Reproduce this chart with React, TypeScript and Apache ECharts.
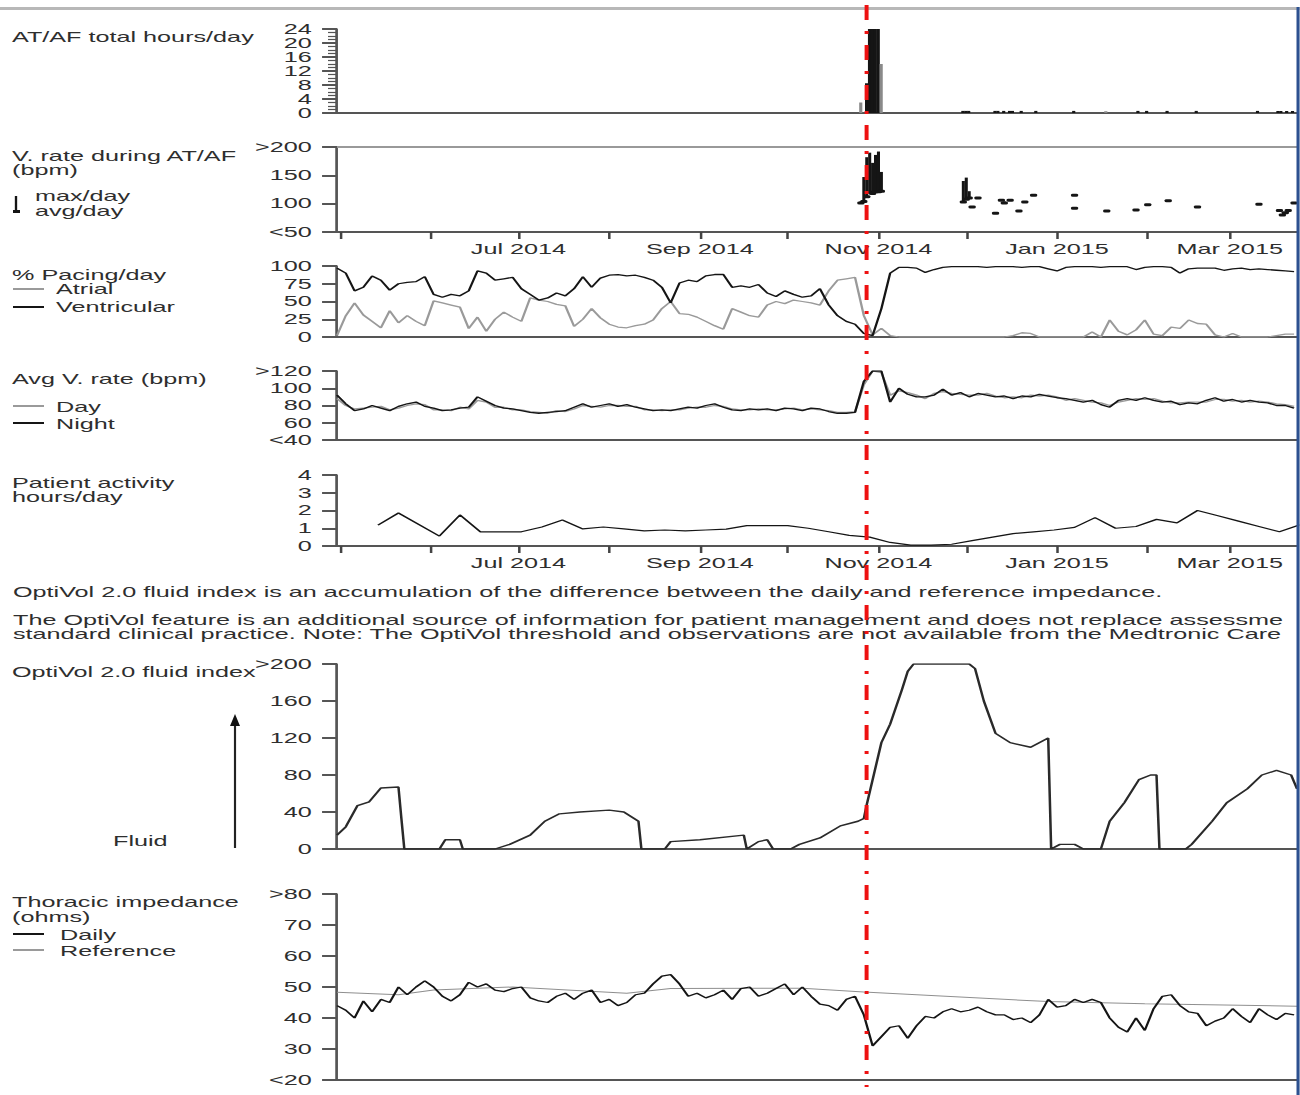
import React, { useEffect, useRef } from 'react';
import * as echarts from 'echarts';

// ---------------- data ----------------
const X_MIN = '2014-04-30';
const X_MAX = '2015-03-24';
const EVENT_DATE = '2014-10-28';
const SAMPLE_START = '2014-04-30';
const SAMPLE_STEP_DAYS = 3;
const MONTHS = ['Jan', 'Feb', 'Mar', 'Apr', 'May', 'Jun', 'Jul', 'Aug', 'Sep', 'Oct', 'Nov', 'Dec'];
const X_TICK_LABELS = ['Jul 2014', 'Sep 2014', 'Nov 2014', 'Jan 2015', 'Mar 2015'];

// AT/AF total hours/day
const ATAF_DATES = ['2014-10-28', '2014-10-29', '2014-10-30', '2014-10-31', '2014-11-01',
  '2014-11-30', '2014-12-01', '2014-12-02', '2014-12-11', '2014-12-12', '2014-12-14', '2014-12-16',
  '2014-12-17', '2014-12-20', '2014-12-25', '2015-01-07', '2015-01-29', '2015-02-01', '2015-02-08',
  '2015-02-18', '2015-03-11', '2015-03-18', '2015-03-19', '2015-03-21', '2015-03-23'];
const ATAF_HOURS = [8.5, 24, 24, 24, 24,
  0.6, 0.6, 0.6, 0.6, 0.6, 0.6, 0.6,
  0.6, 0.6, 0.6, 0.6, 0.6, 0.6, 0.6,
  0.6, 0.6, 0.6, 0.6, 0.6, 0.6];
const ATAF_PARTIAL_DATES = ['2014-10-26', '2014-11-02', '2015-01-18'];
const ATAF_PARTIAL_HOURS = [3, 14, 0.5];

// V. rate during AT/AF
const VR_DATES = ['2014-10-26', '2014-10-27', '2014-10-28', '2014-10-29', '2014-10-30', '2014-10-31',
  '2014-11-01', '2014-11-02', '2014-11-30', '2014-12-01', '2014-12-02', '2014-12-03', '2014-12-05',
  '2014-12-11', '2014-12-13', '2014-12-14', '2014-12-16', '2014-12-19', '2014-12-21', '2014-12-24',
  '2015-01-07', '2015-01-07', '2015-01-18', '2015-01-28', '2015-02-01', '2015-02-08', '2015-02-18',
  '2015-03-11', '2015-03-18', '2015-03-19', '2015-03-20', '2015-03-21', '2015-03-23'];
const VR_AVG = [101, 104, 112, 120, 118, 121, 121, 122, 103, 108, 110, 94, 110, 83, 106, 101, 106, 87, 103, 115,
  115, 92, 87, 89, 98, 105, 94, 99, 88, 80, 84, 88, 101];
const VR_MAX = [104, 147, 182, 190, 172, 186, 192, 156, 140, 146, 122, 94, 110, 83, 106, 104, 106, 87, 103, 115,
  115, 92, 87, 89, 98, 105, 94, 99, 88, 80, 84, 88, 101];

// % pacing/day (sampled every 3 days from SAMPLE_START)
const PACE_VENTRICULAR = [
  97, 90, 65, 70, 86, 80, 66, 75, 77, 78,
  85, 60, 56, 60, 58, 65, 93, 90, 80, 82,
  84, 68, 60, 52, 55, 62, 58, 68, 85, 70,
  83, 87, 88, 86, 87, 84, 80, 70, 48, 76,
  80, 78, 86, 88, 88, 70, 72, 70, 74, 62,
  57, 65, 60, 56, 58, 68, 45, 30, 22, 18,
  5, 2, 40, 90, 98, 98, 97, 91, 95, 98,
  99, 99, 99, 99, 98, 99, 99, 99, 98, 99,
  99, 96, 93, 98, 99, 99, 99, 98, 99, 99,
  99, 95, 98, 99, 99, 98, 90, 96, 97, 97,
  97, 94, 96, 97, 95, 96, 95, 94, 93, 92];
const PACE_ATRIAL = [
  2, 30, 48, 31, 22, 13, 37, 20, 30, 22,
  16, 51, 48, 45, 42, 12, 28, 8, 25, 35,
  28, 22, 55, 52, 50, 46, 44, 15, 25, 40,
  27, 18, 14, 13, 16, 18, 24, 40, 50, 33,
  32, 28, 22, 16, 11, 40, 35, 30, 28, 45,
  50, 47, 52, 50, 48, 45, 65, 80, 82, 84,
  30, 3, 12, 2, 0, 0, 0, 0, 0, 0,
  0, 0, 0, 0, 0, 0, 0, 2, 6, 5,
  0, 0, 0, 0, 0, 0, 7, 0, 24, 8,
  3, 10, 24, 4, 2, 14, 12, 24, 19, 18,
  3, 0, 5, 0, 0, 0, 0, 2, 4, 4];

// Avg V. rate (bpm)
const VRATE_NIGHT = [
  92, 82, 74, 76, 80, 77, 74, 79, 82, 84,
  79, 77, 74, 75, 77, 78, 90, 85, 80, 77,
  76, 74, 72, 71, 72, 73, 74, 78, 82, 78,
  80, 82, 79, 81, 78, 76, 74, 75, 74, 76,
  78, 77, 80, 82, 78, 75, 74, 76, 75, 76,
  74, 77, 76, 74, 77, 76, 73, 71, 71, 72,
  108, 120, 120, 84, 100, 93, 90, 90, 92, 99,
  92, 95, 90, 94, 92, 90, 91, 88, 91, 90,
  93, 91, 89, 88, 86, 84, 86, 81, 78, 86,
  88, 86, 89, 86, 84, 85, 81, 83, 82, 86,
  89, 85, 87, 84, 86, 84, 83, 80, 80, 77];
const VRATE_DAY = [
  88, 80, 76, 77, 78, 79, 75, 77, 80, 82,
  81, 75, 75, 74, 78, 76, 86, 84, 78, 78,
  75, 75, 73, 72, 71, 74, 73, 76, 80, 79,
  78, 80, 80, 79, 79, 75, 75, 74, 75, 75,
  77, 78, 78, 80, 79, 76, 75, 75, 76, 75,
  75, 76, 77, 75, 76, 75, 74, 72, 72, 73,
  104, 120, 118, 92, 97, 95, 92, 88, 94, 96,
  94, 93, 92, 92, 94, 91, 89, 90, 89, 92,
  91, 92, 90, 86, 88, 86, 84, 83, 80, 84,
  86, 88, 87, 88, 85, 83, 83, 84, 84, 84,
  87, 87, 85, 86, 84, 85, 84, 82, 81, 79];

// Patient activity hours/day (weekly)
const ACT_DATES = ['2014-05-14', '2014-05-21', '2014-06-04', '2014-06-11', '2014-06-18', '2014-06-25',
  '2014-07-02', '2014-07-09', '2014-07-16', '2014-07-23', '2014-07-30', '2014-08-06', '2014-08-13',
  '2014-08-20', '2014-08-27', '2014-09-03', '2014-09-10', '2014-09-17', '2014-09-24', '2014-10-01',
  '2014-10-08', '2014-10-15', '2014-10-22', '2014-10-29', '2014-11-05', '2014-11-12', '2014-11-19',
  '2014-11-26', '2014-12-03', '2014-12-10', '2014-12-17', '2014-12-24', '2014-12-31', '2015-01-07',
  '2015-01-14', '2015-01-21', '2015-01-28', '2015-02-04', '2015-02-11', '2015-02-18', '2015-02-25',
  '2015-03-04', '2015-03-11', '2015-03-18', '2015-03-25'];
const ACT_HOURS = [1.18, 1.86, 0.56, 1.75, 0.8, 0.8,
  0.8, 1.07, 1.46, 0.96, 1.07, 0.96, 0.85,
  0.9, 0.85, 0.9, 0.95, 1.15, 1.15, 1.15,
  1.0, 0.8, 0.6, 0.5, 0.2, 0.05, 0.05,
  0.1, 0.3, 0.5, 0.7, 0.8, 0.9, 1.05,
  1.6, 1.0, 1.1, 1.5, 1.3, 2.0, 1.7,
  1.4, 1.1, 0.8, 1.2];

// OptiVol 2.0 fluid index
const OPTI_DATES = ['2014-04-30', '2014-05-03', '2014-05-07', '2014-05-11', '2014-05-15', '2014-05-21',
  '2014-05-22', '2014-05-23', '2014-06-04', '2014-06-06', '2014-06-11', '2014-06-12', '2014-06-23',
  '2014-06-28', '2014-07-05', '2014-07-10', '2014-07-15', '2014-07-22', '2014-08-01', '2014-08-06',
  '2014-08-11', '2014-08-12', '2014-08-20', '2014-08-22', '2014-09-01', '2014-09-16', '2014-09-17',
  '2014-09-21', '2014-09-24', '2014-09-26', '2014-10-02', '2014-10-05', '2014-10-12', '2014-10-19',
  '2014-10-25', '2014-10-27', '2014-10-28', '2014-11-02', '2014-11-05', '2014-11-09', '2014-11-11',
  '2014-11-13', '2014-12-02', '2014-12-04', '2014-12-07', '2014-12-11', '2014-12-16', '2014-12-23',
  '2014-12-29', '2014-12-30', '2015-01-02', '2015-01-07', '2015-01-10', '2015-01-16', '2015-01-19',
  '2015-01-24', '2015-01-29', '2015-02-02', '2015-02-04', '2015-02-05', '2015-02-14', '2015-02-16',
  '2015-02-23', '2015-02-28', '2015-03-07', '2015-03-12', '2015-03-17', '2015-03-22', '2015-03-24'];
const OPTI_VALUES = [15, 24, 47, 51, 66, 67,
  33, 0, 0, 10, 10, 0, 0,
  5, 15, 30, 38, 40, 42, 40,
  30, 0, 0, 8, 10, 15, 0,
  8, 10, 0, 0, 5, 12, 25,
  30, 33, 48, 115, 135, 172, 192,
  200, 200, 195, 160, 125, 115, 110,
  120, 0, 5, 5, 0, 0, 30,
  50, 75, 80, 80, 0, 0, 5,
  30, 50, 65, 80, 85, 80, 65];

// Thoracic impedance (ohms)
const IMP_DAILY = [
  44, 42.5, 40, 45.5, 42, 46, 45, 50, 47.5, 50,
  52, 50, 47, 45.5, 47.5, 51.5, 50, 51, 49, 48.5,
  49.5, 50, 46.5, 45.5, 45, 47, 48, 46, 48, 49,
  45, 46, 44, 45, 47.5, 48, 51, 53.5, 54, 51,
  47, 48, 46.5, 47.5, 49, 46, 49.5, 50, 47, 48,
  49.5, 51, 47.5, 50, 47, 44.5, 44, 42.5, 46, 47,
  41, 31, 34, 37, 37.5, 33.5, 37.5, 40.5, 40, 42,
  43, 42, 42.5, 43.5, 42, 41, 41, 39.5, 40, 38.5,
  41, 46, 43.5, 44, 46, 45, 46, 45, 40, 37,
  35.5, 40, 36, 43, 47, 47.5, 44, 42, 41.5, 37.5,
  39, 40, 43, 40.5, 38.5, 43, 41, 39.5, 41.5, 41];
const IMP_REF_DATES = ['2014-04-30', '2014-05-21', '2014-06-02', '2014-06-29', '2014-08-07', '2014-08-22',
  '2014-10-06', '2014-10-27', '2014-12-29', '2015-01-31', '2015-03-24'];
const IMP_REF_VALUES = [48.3, 47.5, 49, 50, 48, 49.5, 49.6, 48.4, 45.3, 44.6, 43.8];

// y-axis scales (min, max, interval) and edge labels
const Y_MIN = [0, 50, 0, 40, 0, 0, 20];
const Y_MAX = [24, 200, 100, 120, 4, 200, 80];
const Y_STEP = [4, 50, 25, 20, 1, 40, 10];
const Y_LOW_LABEL = ['0', '<50', '0', '<40', '0', '0', '<20'];
const Y_HIGH_LABEL = ['24', '>200', '100', '>120', '4', '>200', '>80'];

// ---------------- layout / style ----------------
const S = 1.8; // the report is stretched horizontally
const PAGE_W = 1300;
const PAGE_H = 1095;
const CW = PAGE_W / S;
const px = (x: number) => x / S;
const FONT = 'Liberation Sans, Arial, sans-serif';
const TEXT = '#2e2e2e';
const AXIS = '#555';
const BLACK = '#151515';
const GRAY = '#9a9a9a';
const PLOT_L = 337;
const PLOT_R = 1297;
const GRID_TOP = [29, 147, 266, 371, 475, 664, 894];
const GRID_H = [84, 85, 71, 69, 71, 185, 186];
const LABELLED_X = [1, 4];

const toTs = (s: string) => {
  const [y, m, d] = s.split('-').map(Number);
  return new Date(y, m - 1, d).getTime();
};
const sampleTs = (i: number) => {
  const [y, m, d] = SAMPLE_START.split('-').map(Number);
  return new Date(y, m - 1, d + SAMPLE_STEP_DAYS * i).getTime();
};
const pairs = (dates: string[], vals: number[]) => dates.map((d, i) => [toTs(d), vals[i]]);
const sampled = (vals: number[]) => vals.map((v, i) => [sampleTs(i), v]);

const monthLabel = (val: number) => {
  const d = new Date(val);
  if (d.getDate() !== 1) return '';
  const s = `${MONTHS[d.getMonth()]} ${d.getFullYear()}`;
  return X_TICK_LABELS.includes(s) ? s : '';
};

const txt = (id: string, text: string, x: number, y: number, size = 14) => ({
  type: 'text', id, x: px(x), y, z: 10,
  style: { text, fontSize: size, fontFamily: FONT, fill: TEXT, align: 'left', verticalAlign: 'middle' },
});
const seg = (id: string, x1: number, y1: number, x2: number, y2: number, stroke: string, lineWidth: number) => ({
  type: 'line', id, z: 10, shape: { x1: px(x1), y1, x2: px(x2), y2 }, style: { stroke, lineWidth },
});

const staticGraphics = [
  { type: 'rect', id: 'topBorder', shape: { x: 0, y: 7, width: CW, height: 3 }, style: { fill: '#b8b8b8' } },
  { type: 'rect', id: 'rightBorder', z: 20, shape: { x: px(1296.5), y: 7, width: px(3.5), height: PAGE_H - 7 }, style: { fill: '#2d5190' } },
  txt('t1', 'AT/AF total hours/day', 12, 37),
  txt('t2a', 'V. rate during AT/AF', 12, 156),
  txt('t2b', '(bpm)', 12, 170),
  seg('i2a', 16, 196, 16, 212, BLACK, 1.3),
  { type: 'rect', id: 'i2b', z: 10, shape: { x: px(13), y: 210, width: px(7), height: 3 }, style: { fill: BLACK } },
  txt('t2c', 'max/day', 35, 196),
  txt('t2d', 'avg/day', 35, 211),
  txt('t3', '% Pacing/day', 12, 275),
  seg('l3a', 13, 289, 44, 289, GRAY, 2),
  txt('t3a', 'Atrial', 56, 289),
  seg('l3b', 13, 307, 44, 307, BLACK, 2),
  txt('t3b', 'Ventricular', 56, 307),
  txt('t4', 'Avg V. rate (bpm)', 12, 379),
  seg('l4a', 13, 406, 44, 406, GRAY, 2),
  txt('t4a', 'Day', 56, 407),
  seg('l4b', 13, 423, 44, 423, BLACK, 2),
  txt('t4b', 'Night', 56, 424),
  txt('t5a', 'Patient activity', 12, 483),
  txt('t5b', 'hours/day', 12, 497),
  txt('d1', 'OptiVol 2.0 fluid index is an accumulation of the difference between the daily and reference impedance.', 13, 592),
  txt('d2', 'The OptiVol feature is an additional source of information for patient management and does not replace assessme', 13, 620),
  txt('d3', 'standard clinical practice. Note: The OptiVol threshold and observations are not available from the Medtronic Care', 13, 634),
  txt('t6', 'OptiVol 2.0 fluid index', 12, 672),
  seg('arrow', 235, 848, 235, 724, '#222', 1.2),
  { type: 'polygon', id: 'arrowHead', z: 10, shape: { points: [[px(235), 714], [px(230), 726], [px(240), 726]] }, style: { fill: '#111' } },
  txt('t6b', 'Fluid', 113, 841),
  txt('t7a', 'Thoracic impedance', 12, 902),
  txt('t7b', '(ohms)', 12, 917),
  seg('l7a', 13, 934, 44, 934, BLACK, 2),
  txt('t7c', 'Daily', 60, 935),
  seg('l7b', 13, 950, 44, 950, GRAY, 2),
  txt('t7d', 'Reference', 60, 951),
];

const yLabel = (g: number) => (v: number) =>
  v === Y_MIN[g] ? Y_LOW_LABEL[g] : v === Y_MAX[g] ? Y_HIGH_LABEL[g] : String(v);

const lineSeries = (g: number, data: any[], color: string, width = 1.3, z = 2) => ({
  type: 'line', xAxisIndex: g, yAxisIndex: g, data, symbol: 'none', showSymbol: false, z,
  lineStyle: { color, width }, itemStyle: { color }, emphasis: { disabled: true }, silent: true,
});

function buildOption() {
  const grids = GRID_TOP.map((top, g) => ({
    left: px(PLOT_L), width: px(PLOT_R - PLOT_L), top, height: GRID_H[g], outerBoundsMode: 'none',
  }));
  const xAxes: any[] = GRID_TOP.map((_, g) => ({
    type: 'time', gridIndex: g, min: toTs(X_MIN), max: toTs(X_MAX),
    minInterval: 28 * 86400000, maxInterval: 31 * 86400000,
    axisLine: { show: true, onZero: false, lineStyle: { color: AXIS, width: 2 } },
    axisTick: { show: LABELLED_X.includes(g), length: 7, lineStyle: { color: '#444', width: 1.4 } },
    axisLabel: {
      show: LABELLED_X.includes(g), formatter: monthLabel, fontSize: 14, fontFamily: FONT, color: TEXT,
      margin: 10, hideOverlap: false, showMinLabel: false, showMaxLabel: false,
    },
    splitLine: { show: false },
  }));
  xAxes.push({
    type: 'time', gridIndex: 1, position: 'top', min: toTs(X_MIN), max: toTs(X_MAX),
    axisLine: { show: true, onZero: false, lineStyle: { color: '#999', width: 2 } },
    axisTick: { show: false }, axisLabel: { show: false }, splitLine: { show: false },
  });
  const yAxes = GRID_TOP.map((_, g) => ({
    type: 'value', gridIndex: g, min: Y_MIN[g], max: Y_MAX[g], interval: Y_STEP[g],
    axisLine: { show: true, lineStyle: { color: AXIS, width: 1.5 } },
    axisTick: { show: true, length: 8.3, lineStyle: { color: AXIS, width: 2 } },
    minorTick: { show: g === 0, splitNumber: 4, length: 5, lineStyle: { color: AXIS, width: 1.2 } },
    axisLabel: { show: true, margin: 14, fontSize: 14, fontFamily: FONT, color: TEXT, formatter: yLabel(g) },
    splitLine: { show: false },
  }));

  const vrData = VR_DATES.map((d, i) => [toTs(d), VR_AVG[i], VR_MAX[i]]);

  return {
    animation: false,
    backgroundColor: '#fff',
    textStyle: { fontFamily: FONT },
    grid: grids,
    xAxis: xAxes,
    yAxis: yAxes,
    series: [
      {
        type: 'bar', xAxisIndex: 0, yAxisIndex: 0, data: pairs(ATAF_DATES, ATAF_HOURS),
        barWidth: 1.75, barGap: '-100%', itemStyle: { color: BLACK }, silent: true,
      },
      {
        type: 'bar', xAxisIndex: 0, yAxisIndex: 0, data: pairs(ATAF_PARTIAL_DATES, ATAF_PARTIAL_HOURS),
        barWidth: 1.75, barGap: '-100%', itemStyle: { color: '#8a8a8a' }, silent: true,
      },
      {
        type: 'custom', xAxisIndex: 1, yAxisIndex: 1, data: vrData, encode: { x: 0, y: [1, 2] }, silent: true,
        renderItem: (_p: any, api: any) => {
          const t = api.value(0);
          const a = api.coord([t, api.value(1)]);
          const m = api.coord([t, api.value(2)]);
          return {
            type: 'group',
            children: [
              { type: 'line', shape: { x1: a[0], y1: a[1], x2: m[0], y2: m[1] }, style: { stroke: BLACK, lineWidth: 1.7 } },
              { type: 'rect', shape: { x: a[0] - 2, y: a[1] - 1.5, width: 4, height: 3, r: 1 }, style: { fill: BLACK } },
            ],
          };
        },
      },
      lineSeries(2, sampled(PACE_ATRIAL), GRAY),
      lineSeries(2, sampled(PACE_VENTRICULAR), BLACK, 1.3, 3),
      lineSeries(3, sampled(VRATE_DAY), GRAY),
      lineSeries(3, sampled(VRATE_NIGHT), BLACK, 1.3, 3),
      lineSeries(4, pairs(ACT_DATES, ACT_HOURS), BLACK, 1.2),
      lineSeries(5, pairs(OPTI_DATES, OPTI_VALUES), '#2a2a2a', 1.4),
      lineSeries(6, pairs(IMP_REF_DATES, IMP_REF_VALUES), '#8f8f8f', 1),
      lineSeries(6, sampled(IMP_DAILY), BLACK, 1.3, 3),
    ],
  };
}

export default function App() {
  const ref = useRef<HTMLDivElement>(null);
  useEffect(() => {
    if (!ref.current) return;
    const chart = echarts.init(ref.current, null, { renderer: 'svg' });
    chart.setOption(buildOption() as any);
    const xr = chart.convertToPixel({ xAxisIndex: 0 }, toTs(EVENT_DATE)) as unknown as number;
    const eventLine = {
      type: 'line', id: 'eventLine', z: 100,
      shape: { x1: xr, y1: 5, x2: xr, y2: 1087 },
      style: { stroke: '#ee1111', lineWidth: 2.2, lineDash: [15, 11, 3, 11] },
    };
    chart.setOption({ graphic: { elements: [...staticGraphics, eventLine] } } as any);
    return () => chart.dispose();
  }, []);
  return (
    <div style={{ position: 'fixed', left: 0, top: 0, width: PAGE_W, height: PAGE_H, overflow: 'hidden', background: '#fff' }}>
      <div ref={ref} style={{ width: CW, height: PAGE_H, transform: `scaleX(${S})`, transformOrigin: '0 0' }} />
    </div>
  );
}
